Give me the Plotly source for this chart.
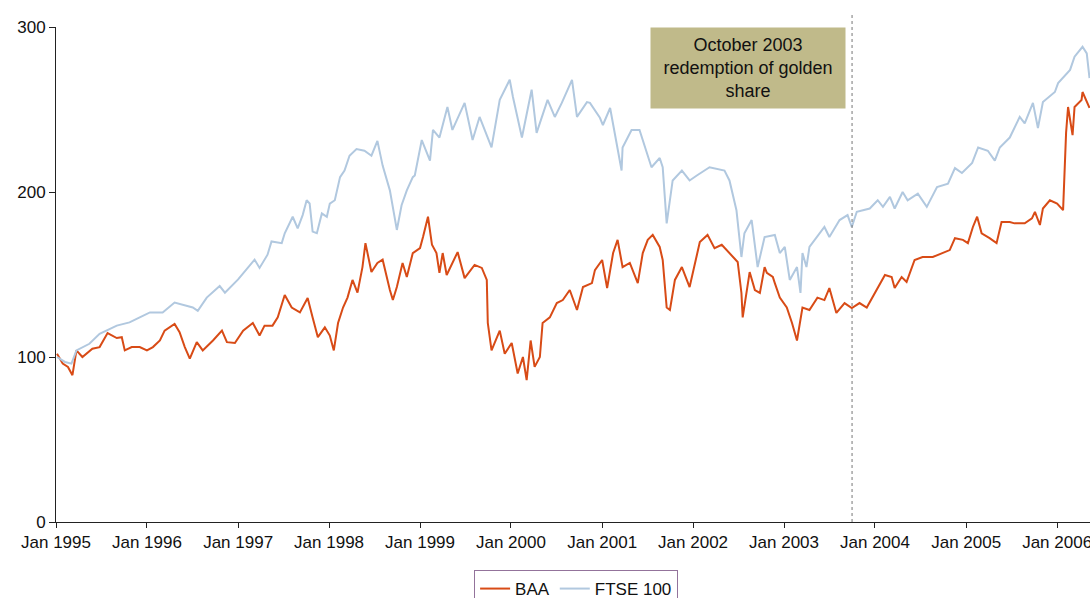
import plotly.graph_objects as go

# ---------------- data ----------------
ftse_dates = [
    "1995-01-05", "1995-02-06", "1995-03-04", "1995-03-24", "1995-05-15", "1995-06-25",
    "1995-09-02", "1995-10-23", "1995-12-03", "1996-01-13", "1996-03-04", "1996-04-21",
    "1996-07-03", "1996-07-23", "1996-08-28", "1996-10-19", "1996-11-09", "1997-01-01",
    "1997-03-08", "1997-03-28", "1997-04-29", "1997-05-15", "1997-06-25", "1997-07-07",
    "1997-08-08", "1997-08-28", "1997-09-17", "1997-10-03", "1997-10-15", "1997-10-27",
    "1997-11-13", "1997-12-03", "1997-12-23", "1998-01-04", "1998-01-24", "1998-02-14",
    "1998-03-04", "1998-03-24", "1998-04-21", "1998-05-23", "1998-06-20", "1998-07-14",
    "1998-08-04", "1998-09-02", "1998-09-30", "1998-10-19", "1998-11-09", "1998-12-03",
    "1998-12-11", "1999-01-08", "1999-02-10", "1999-02-22", "1999-03-20", "1999-04-21",
    "1999-05-11", "1999-06-29", "1999-07-31", "1999-08-28", "1999-10-15", "1999-11-17",
    "1999-12-27", "2000-01-09", "2000-02-14", "2000-03-24", "2000-04-13", "2000-05-27",
    "2000-06-25", "2000-07-23", "2000-09-02", "2000-09-22", "2000-11-01", "2000-11-13",
    "2000-12-23", "2001-01-04", "2001-02-02", "2001-03-20", "2001-03-24", "2001-04-29",
    "2001-05-31", "2001-07-18", "2001-08-20", "2001-09-01", "2001-09-17", "2001-10-11",
    "2001-11-17", "2001-12-18", "2002-01-16", "2002-03-08", "2002-05-07", "2002-05-27",
    "2002-06-24", "2002-07-14", "2002-07-26", "2002-08-24", "2002-09-17", "2002-10-15",
    "2002-11-25", "2002-12-15", "2003-01-04", "2003-01-24", "2003-02-22", "2003-03-08",
    "2003-03-16", "2003-04-01", "2003-04-13", "2003-06-12", "2003-07-02", "2003-08-12",
    "2003-09-13", "2003-09-30", "2003-10-20", "2003-12-11", "2004-01-12", "2004-02-02",
    "2004-03-01", "2004-03-20", "2004-04-21", "2004-05-11", "2004-06-21", "2004-07-27",
    "2004-09-06", "2004-10-20", "2004-11-17", "2004-12-15", "2005-01-25", "2005-02-18",
    "2005-03-29", "2005-04-26", "2005-05-16", "2005-06-25", "2005-08-04", "2005-08-24",
    "2005-09-26", "2005-10-16", "2005-11-05", "2005-12-23", "2006-01-05", "2006-02-22",
    "2006-03-12", "2006-04-13", "2006-04-30", "2006-05-11",
]
ftse_values = [
    100, 97, 96, 104, 108, 114,
    119, 121, 124, 127, 127, 133,
    130, 128, 136, 143, 139, 147,
    159, 154, 162, 170, 169, 175,
    185, 178, 186, 195, 193, 176,
    175, 187, 185, 193, 195, 209,
    213, 222, 226, 225, 222, 231,
    216, 201, 177, 192, 201, 209,
    210, 231.5, 219, 237.6, 233, 251.5,
    237.6, 254, 231.5, 245.5, 227, 255.8,
    268, 257.6, 233, 262, 235.8, 255.8,
    245.5, 254, 268, 245.5, 254.5, 254,
    245, 240.6, 250.9, 213, 227, 237.6,
    237.6, 215, 220.6, 215, 181, 207,
    213, 207, 210, 215, 213, 207,
    189, 160.6, 175, 183, 154.5, 172.7,
    174, 163, 166.7, 146.7, 154.5, 138.8,
    163, 154.5, 166.7, 178.8, 172.7, 183,
    186, 178.8, 188, 190, 195, 191,
    197, 190, 200, 195, 199, 191,
    203, 205, 214.5, 211.5, 217.6, 227,
    225, 219, 227, 233, 245.5, 241.6,
    254, 238.8, 254.5, 260.6, 266, 274,
    282, 288, 284, 269,
]

baa_dates = [
    "1995-01-05", "1995-01-28", "1995-02-18", "1995-03-08", "1995-03-24", "1995-04-17",
    "1995-05-27", "1995-06-25", "1995-07-27", "1995-09-02", "1995-09-22", "1995-10-04",
    "1995-11-01", "1995-12-03", "1996-01-01", "1996-01-25", "1996-02-22", "1996-03-12",
    "1996-04-21", "1996-05-11", "1996-06-01", "1996-06-21", "1996-07-19", "1996-08-12",
    "1996-09-22", "1996-10-28", "1996-11-17", "1996-12-19", "1997-01-21", "1997-03-01",
    "1997-03-28", "1997-04-17", "1997-05-19", "1997-06-09", "1997-07-07", "1997-08-04",
    "1997-09-06", "1997-10-07", "1997-10-27", "1997-11-17", "1997-12-15", "1998-01-04",
    "1998-01-20", "1998-02-06", "1998-02-26", "1998-03-16", "1998-04-05", "1998-04-25",
    "1998-05-15", "1998-05-27", "1998-06-20", "1998-07-14", "1998-08-04", "1998-08-20",
    "1998-09-02", "1998-09-14", "1998-09-30", "1998-10-23", "1998-11-09", "1998-12-03",
    "1999-01-01", "1999-01-13", "1999-02-02", "1999-02-18", "1999-03-08", "1999-03-20",
    "1999-04-02", "1999-04-18", "1999-06-01", "1999-06-29", "1999-08-08", "1999-09-06",
    "1999-09-26", "1999-09-30", "1999-10-15", "1999-11-17", "1999-12-07", "2000-01-04",
    "2000-01-28", "2000-02-18", "2000-03-04", "2000-03-20", "2000-04-05", "2000-04-26",
    "2000-05-07", "2000-06-05", "2000-07-03", "2000-07-27", "2000-08-24", "2000-09-22",
    "2000-10-16", "2000-11-21", "2000-12-03", "2001-01-01", "2001-01-21", "2001-02-14",
    "2001-03-04", "2001-03-24", "2001-04-22", "2001-05-24", "2001-06-13", "2001-07-03",
    "2001-07-23", "2001-08-20", "2001-09-01", "2001-09-17", "2001-09-30", "2001-10-20",
    "2001-11-17", "2001-12-18", "2002-01-28", "2002-02-28", "2002-03-28", "2002-04-26",
    "2002-06-05", "2002-06-29", "2002-07-14", "2002-07-19", "2002-08-16", "2002-09-06",
    "2002-09-26", "2002-10-15", "2002-10-24", "2002-11-17", "2002-11-25", "2002-12-15",
    "2003-01-12", "2003-02-02", "2003-02-22", "2003-03-04", "2003-03-16", "2003-04-13",
    "2003-05-15", "2003-06-12", "2003-07-02", "2003-07-30", "2003-09-01", "2003-09-30",
    "2003-10-31", "2003-11-29", "2004-01-01", "2004-02-10", "2004-03-08", "2004-03-20",
    "2004-04-17", "2004-05-07", "2004-06-08", "2004-07-10", "2004-08-20", "2004-09-29",
    "2004-10-27", "2004-11-17", "2004-12-19", "2005-01-08", "2005-01-28", "2005-02-14",
    "2005-03-04", "2005-04-05", "2005-05-03", "2005-05-23", "2005-06-25", "2005-07-14",
    "2005-08-24", "2005-09-22", "2005-10-04", "2005-10-24", "2005-11-05", "2005-12-03",
    "2006-01-01", "2006-01-25", "2006-02-06", "2006-02-14", "2006-03-04", "2006-03-12",
    "2006-04-09", "2006-04-13", "2006-05-11",
]
baa_values = [
    102, 96, 94, 89, 104, 100,
    105, 106, 114.5, 111.5, 112, 104,
    106, 106, 104, 106, 110, 116,
    120, 115, 106, 99, 109, 104,
    110, 116, 109, 108.5, 116, 120.6,
    113, 119, 119, 124, 137.6, 130,
    127, 135.8, 124, 112, 118, 113,
    104, 120.6, 130, 136, 146.7, 139,
    154.5, 169, 151.5, 157, 159, 148.5,
    140.6, 134.5, 142.4, 157, 148.5, 163,
    166, 172.7, 185, 168, 163, 151,
    163, 149.7, 163.6, 147.8, 155.8, 154,
    146.7, 120.6, 104, 116, 102, 108.5,
    90, 100, 86, 110, 94, 100,
    120.6, 124, 132.7, 134.5, 140.6, 128.5,
    142.4, 144.8, 152.7, 158.8, 141.8, 163,
    171, 154.5, 157, 144.8, 163, 171,
    174, 166.7, 158.8, 130, 128.5, 146.7,
    154.5, 142.4, 169.7, 174, 166, 168,
    161.8, 157.6, 138.8, 124, 151.5, 140.6,
    138.8, 154.5, 151, 148.5, 144.8, 136,
    130, 120.6, 110, 118, 130, 128.5,
    136, 134.5, 141.8, 126.7, 132.7, 129.7,
    132.7, 130, 138.8, 149.7, 148.5, 141.8,
    148.5, 145.5, 158.8, 160.6, 160.6, 163,
    164.8, 172, 171, 169, 178.8, 185,
    175, 172, 169, 181.8, 181.8, 181,
    181, 184, 188, 180, 190, 195,
    193, 189, 235.8, 251.5, 234.5, 251.5,
    255.8, 260.6, 251,
]

series_names = ["BAA", "FTSE 100"]
y_tick_values = [0, 100, 200, 300]
event_date = "2003-10-01"
event_text = "October 2003<br>redemption of golden<br>share"

# ---------------- figure ----------------
FONT = "Arial, 'Liberation Sans', sans-serif"

fig = go.Figure()
fig.add_trace(go.Scatter(
    x=baa_dates, y=baa_values, name=series_names[0], mode="lines",
    line=dict(color="#D84B16", width=2),
))
fig.add_trace(go.Scatter(
    x=ftse_dates, y=ftse_values, name=series_names[1], mode="lines",
    line=dict(color="#B1C8DF", width=2),
))

fig.add_shape(
    type="line", xref="x", yref="paper",
    x0=event_date, x1=event_date, y0=0, y1=1.03,
    line=dict(color="#777777", width=1, dash="dot"),
)

fig.add_annotation(
    xref="paper", yref="paper", x=0.669, y=1.0,
    xanchor="center", yanchor="top",
    text=event_text, showarrow=False,
    width=194, height=80, borderpad=0,
    bgcolor="#C0BA8A", font=dict(family=FONT, size=18, color="#111111"),
    align="center",
)

fig.update_layout(
    template="none",
    width=1090, height=598,
    margin=dict(l=56, r=0, t=27, b=76, autoexpand=False),
    paper_bgcolor="white", plot_bgcolor="white",
    font=dict(family=FONT, size=17, color="#111111"),
    showlegend=True,
    legend=dict(
        orientation="h", x=0.503, y=-0.097, xanchor="center", yanchor="top",
        bordercolor="#93739B", borderwidth=1, bgcolor="white",
        font=dict(family=FONT, size=17, color="#111111"),
        itemwidth=30, tracegroupgap=0,
    ),
    xaxis=dict(
        type="date",
        range=["1995-01-01", "2006-05-13"],
        tick0="1995-01-01", dtick="M12", tickformat="%b %Y",
        ticks="outside", ticklen=5, tickcolor="#222222",
        showline=True, linecolor="#222222", linewidth=1,
        showgrid=False, zeroline=False, automargin=False,
        ticklabeloverflow="allow",
    ),
    yaxis=dict(
        range=[0, 300], tickvals=y_tick_values,
        ticks="outside", ticklen=6, tickcolor="#222222",
        showline=True, linecolor="#222222", linewidth=1,
        showgrid=False, zeroline=False, automargin=False,
    ),
)

page_fix = (
    "document.body.style.margin='0px';"
    "document.body.style.overflow='hidden';"
    "document.documentElement.style.overflow='hidden';"
)
fig.write_html("out.html", config={"displayModeBar": False}, post_script=page_fix)
